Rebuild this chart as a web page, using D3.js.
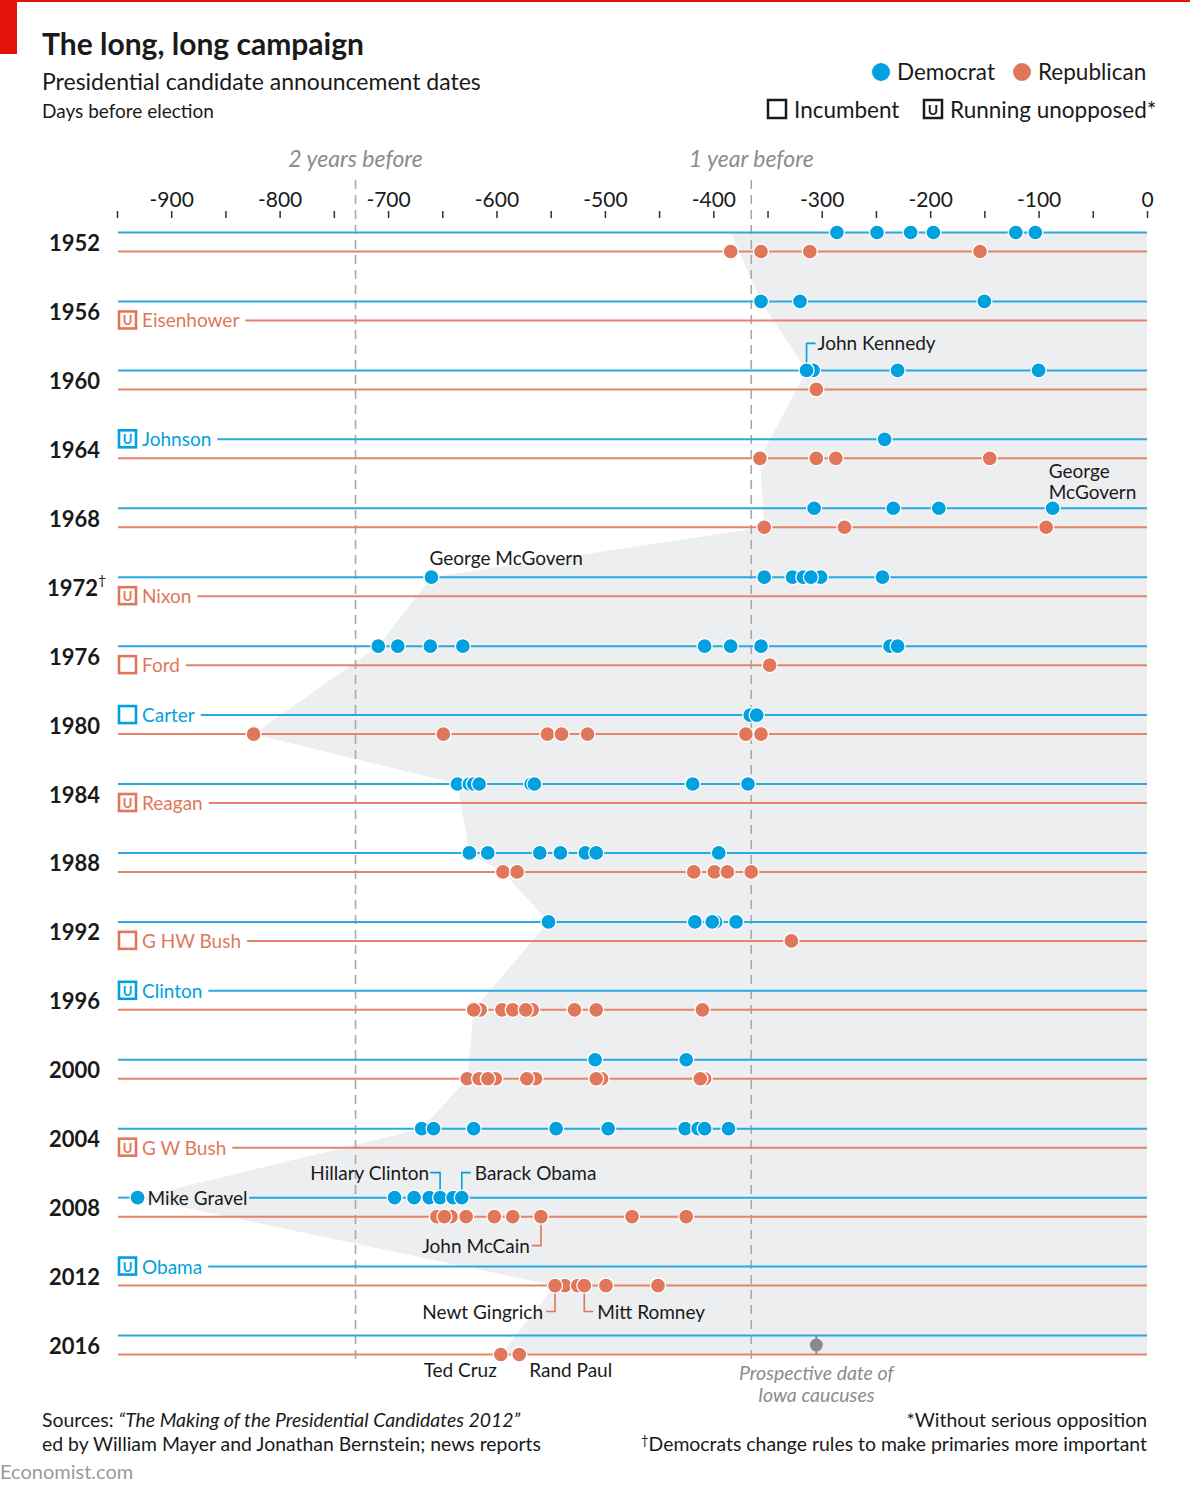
<!DOCTYPE html>
<html><head><meta charset="utf-8">
<script src="https://cdn.jsdelivr.net/npm/d3@7"></script>
<style>
html,body{margin:0;padding:0;background:#fff;}
svg text{font-family:Lato,"Open Sans",sans-serif;}
</style></head>
<body><svg id="c" width="1190" height="1492"></svg>
<script>
// ---------- DATA ----------
const years = [1952,1956,1960,1964,1968,1972,1976,1980,1984,1988,1992,1996,2000,2004,2008,2012,2016];
// days before election, one array per year (same order as years)
const demDays = [
  [-286,-249,-218,-197,-121,-103],
  [-356,-320,-150],
  [-308,-314,-230,-100],
  [-242],
  [-307,-234,-192,-87],
  [-660,-353,-327,-317,-301,-310,-244],
  [-709,-691,-661,-631,-408,-384,-356,-237,-230],
  [-366,-360],
  [-636,-625,-621,-616,-568,-565,-419,-368],
  [-625,-608,-560,-541,-518,-508,-395],
  [-552,-417,-398,-401,-379],
  [],
  [-509,-425],
  [-669,-658,-621,-545,-497,-426,-414,-408,-386],
  [-931,-694,-676,-662,-652,-640,-632],
  [],
  []
];
const repDays = [
  [-384,-356,-311,-154],
  [],
  [-305],
  [-357,-305,-287,-145],
  [-353,-279,-93],
  [],
  [-348],
  [-824,-649,-553,-540,-516,-370,-356],
  [],
  [-594,-581,-418,-399,-387,-365],
  [-328],
  [-615,-621,-595,-585,-567,-573,-528,-508,-410],
  [-627,-616,-601,-608,-564,-572,-503,-508,-408,-412],
  [],
  [-642,-655,-648,-628,-602,-585,-559,-475,-425],
  [-537,-546,-525,-519,-499,-451],
  [-596,-579]
];
// incumbents / unopposed
const incYears   = [1956,1964,1972,1976,1980,1984,1992,1996,2004,2012];
const incNames   = ["Eisenhower","Johnson","Nixon","Ford","Carter","Reagan","G HW Bush","Clinton","G W Bush","Obama"];
const incParty   = ["R","D","R","R","D","R","R","D","R","D"];
const incUnopp   = [true,true,true,false,false,true,false,true,true,true];
// edge of the shaded "earliest announcement" area
const shadeYears = [1952,1956,1960,1964,1968,1972,1976,1980,1984,1988,1988,1992,1996,2000,2004,2008,2012,2016];
const shadeParty = ["D","D","D","R","R","D","D","R","D","D","R","D","R","R","D","D","R","R"];
const shadeDays  = [-384,-356,-314,-357,-353,-660,-709,-824,-636,-625,-594,-552,-621,-627,-669,-931,-546,-596];
// named candidates
const annNames = ["John Kennedy","George McGovern","George McGovern","Hillary Clinton","Barack Obama","Mike Gravel","John McCain","Newt Gingrich","Mitt Romney","Ted Cruz","Rand Paul"];
const annYears = [1960,1968,1972,2008,2008,2008,2008,2012,2012,2016,2016];
const annParty = ["D","D","D","D","D","D","R","R","R","R","R"];
const annDays  = [-314,-87,-660,-652,-632,-931,-559,-546,-519,-596,-579];
const iowaDays = -305;
const tickValues = d3.range(-950, 1, 50);
const markerDays = [-730,-365];
const markerLabels = ["2 years before","1 year before"];

// ---------- SETUP ----------
const BLUE = "#00a1de", RED = "#e1775a", LBLUE = "#29a9e0", LRED = "#e4846a";
const INK = "#1a1a1a";
const svg = d3.select("#c");
const x = d3.scaleLinear().domain([-950,0]).range([117,1147]);
const yc = d3.scalePoint().domain(years).range([242,1345]);
const yLine = (yr,p) => yc(yr) + (p === "D" ? -9.5 : 9.5);
const R = 7.5;

// top decorations
svg.append("rect").attr("x",0).attr("y",0).attr("width",1190).attr("height",2).attr("fill","#e3120b");
svg.append("rect").attr("x",0).attr("y",0).attr("width",17).attr("height",54).attr("fill","#e3120b");

svg.append("text").attr("x",42).attr("y",55).attr("font-size",30).attr("font-weight",700).attr("fill",INK).text("The long, long campaign");
svg.append("text").attr("x",42).attr("y",90).attr("font-size",23).attr("fill",INK).text("Presidential candidate announcement dates");
svg.append("text").attr("x",42).attr("y",118).attr("font-size",19).attr("fill",INK).text("Days before election");

// legend
const lg = svg.append("g");
const LFS = 22.5;
lg.append("circle").attr("cx",881).attr("cy",72).attr("r",9).attr("fill",BLUE);
lg.append("text").attr("x",897).attr("y",80).attr("font-size",LFS).attr("fill",INK).text("Democrat");
lg.append("circle").attr("cx",1022).attr("cy",72).attr("r",9).attr("fill",RED);
lg.append("text").attr("x",1038).attr("y",80).attr("font-size",LFS).attr("fill",INK).text("Republican");
lg.append("rect").attr("x",768).attr("y",100).attr("width",18).attr("height",18).attr("fill","none").attr("stroke",INK).attr("stroke-width",2.5);
lg.append("text").attr("x",794).attr("y",118).attr("font-size",LFS).attr("fill",INK).text("Incumbent");
lg.append("rect").attr("x",924).attr("y",100).attr("width",18).attr("height",18).attr("fill","none").attr("stroke",INK).attr("stroke-width",2.5);
lg.append("text").attr("x",933).attr("y",115).attr("text-anchor","middle").attr("font-size",14).attr("font-weight",700).attr("fill",INK).text("U");
lg.append("text").attr("x",950).attr("y",118).attr("font-size",LFS).attr("fill",INK).text("Running unopposed*");

// shading
const shadePts = shadeYears.map((yr,i) => [x(shadeDays[i]), yLine(yr, shadeParty[i])]);
shadePts.push([x(0), yLine(2016,"R")]);
shadePts.push([x(0), yLine(1952,"D")]);
svg.append("path").attr("d", d3.line()(shadePts) + "Z").attr("fill","#eceef0");

// axis
const axis = d3.axisTop(x).tickValues(tickValues).tickSize(7).tickPadding(4)
  .tickFormat(d => d % 100 === 0 ? String(d) : "");
const ag = svg.append("g").attr("transform","translate(0,218)").call(axis);
ag.select(".domain").remove();
ag.selectAll(".tick line").attr("stroke","#333").attr("stroke-width",1.5);
ag.selectAll(".tick text").attr("font-size",21).attr("fill",INK).attr("font-family","Lato,sans-serif");

// year markers
markerDays.forEach((m,i) => {
  svg.append("line").attr("x1",x(m)).attr("x2",x(m)).attr("y1",180).attr("y2",1362)
    .attr("stroke","#a8a8a8").attr("stroke-width",1.6).attr("stroke-dasharray","9,6");
  svg.append("text").attr("x",x(m)).attr("y",167).attr("text-anchor","middle").attr("font-size",23)
    .attr("font-style","italic").attr("fill","#8c8c8c").text(markerLabels[i]);
});

// year labels
years.forEach(yr => {
  const t = svg.append("text").attr("x",100).attr("y",yc(yr)+9).attr("text-anchor","end")
    .attr("font-size",22).attr("font-weight",700).attr("fill",INK).text(yr);
  if (yr === 1972) {
    t.attr("text-anchor","start").attr("x",47);
    svg.append("text").attr("x",98).attr("y",yc(yr)-2).attr("font-size",14).attr("fill",INK).text("†");
  }
});

// incumbent labels (measure text to start the lines after them)
const lineStart = {};
incYears.forEach((yr,i) => {
  const p = incParty[i], col = p === "D" ? BLUE : RED, y = yLine(yr,p);
  svg.append("rect").attr("x",119).attr("y",y-9).attr("width",17).attr("height",17)
    .attr("fill","none").attr("stroke",col).attr("stroke-width",2.6);
  if (incUnopp[i]) svg.append("text").attr("x",127.5).attr("y",y+5).attr("text-anchor","middle")
    .attr("font-size",13).attr("font-weight",700).attr("fill",col).text("U");
  const t = svg.append("text").attr("x",142).attr("y",y+7).attr("font-size",19).attr("fill",col).text(incNames[i]);
  lineStart[yr+p] = 142 + t.node().getComputedTextLength() + 6;
});

// the party lines
const lg2 = svg.append("g");
years.forEach(yr => {
  ["D","R"].forEach(p => {
    const y = yLine(yr,p), col = p === "D" ? LBLUE : LRED;
    const x0 = lineStart[yr+p] || x(-950) + 1;
    if (yr === 2008 && p === "D") {
      lg2.append("line").attr("x1",x0).attr("x2",x(-931)).attr("y1",y).attr("y2",y).attr("stroke",col).attr("stroke-width",2);
      lg2.append("line").attr("x1",249).attr("x2",x(0)).attr("y1",y).attr("y2",y).attr("stroke",col).attr("stroke-width",2);
    } else {
      lg2.append("line").attr("x1",x0).attr("x2",x(0)).attr("y1",y).attr("y2",y).attr("stroke",col).attr("stroke-width",2);
    }
  });
});

// Iowa caucus marker
svg.append("line").attr("x1",x(iowaDays)).attr("x2",x(iowaDays)).attr("y1",yLine(2016,"D")).attr("y2",yLine(2016,"R"))
  .attr("stroke","#8a8a8a").attr("stroke-width",2);
svg.append("circle").attr("cx",x(iowaDays)).attr("cy",yc(2016)).attr("r",6.5).attr("fill","#8a8a8a");
svg.append("text").attr("x",x(iowaDays)).attr("y",1380).attr("text-anchor","middle").attr("font-size",19.5)
  .attr("font-style","italic").attr("fill","#8c8c8c").text("Prospective date of");
svg.append("text").attr("x",x(iowaDays)).attr("y",1402).attr("text-anchor","middle").attr("font-size",19.5)
  .attr("font-style","italic").attr("fill","#8c8c8c").text("Iowa caucuses");

// annotation connectors (behind dots)
const annG = svg.append("g");
const conn = (d, col) => annG.append("path").attr("d",d).attr("fill","none").attr("stroke",col).attr("stroke-width",1.6);
const txt = (s, xx, yy, anchor) => annG.append("text").attr("x",xx).attr("y",yy).attr("text-anchor",anchor||"start")
  .attr("font-size",19).attr("fill",INK).text(s);
annNames.forEach((n,i) => {
  const xx = x(annDays[i]), y = yLine(annYears[i], annParty[i]);
  const col = annParty[i] === "D" ? BLUE : RED;
  switch (i) {
    case 0: conn(`M${xx},${y} V${y-27} H${xx+9}`, col); txt(n, xx+11, y-20); break;
    case 1: txt("George", xx-4, y-30); txt("McGovern", xx-4, y-9); break;
    case 2: txt(n, xx-2, y-12); break;
    case 3: conn(`M${xx},${y} V${y-25} H${xx-10}`, col); txt(n, xx-11, y-18, "end"); break;
    case 4: conn(`M${xx},${y} V${y-25} H${xx+9}`, col); txt(n, xx+13, y-18); break;
    case 5: txt(n, xx+10, y+7); break;
    case 6: conn(`M${xx},${y} V${y+29} H${xx-9}`, col); txt(n, xx-11, y+36, "end"); break;
    case 7: conn(`M${xx},${y} V${y+26} H${xx-9}`, col); txt(n, xx-12, y+33, "end"); break;
    case 8: conn(`M${xx},${y} V${y+26} H${xx+9}`, col); txt(n, xx+13, y+33); break;
    case 9: txt(n, xx-4, y+22, "end"); break;
    case 10: txt(n, xx+10, y+22); break;
  }
});

// dots
const dotG = svg.append("g");
years.forEach((yr,i) => {
  [["D",demDays[i],BLUE],["R",repDays[i],RED]].forEach(([p,arr,col]) => {
    dotG.selectAll(null).data(arr).enter().append("circle")
      .attr("cx", d => x(d)).attr("cy", yLine(yr,p)).attr("r", R)
      .attr("fill", col).attr("stroke","#fff").attr("stroke-width",1.3);
  });
});

// footer
const FFS = 19.4;
const f = svg.append("text").attr("x",42).attr("y",1427).attr("font-size",FFS).attr("fill",INK);
f.append("tspan").text("Sources: ");
f.append("tspan").attr("font-style","italic").text("\u201CThe Making of the Presidential Candidates 2012\u201D");
svg.append("text").attr("x",42).attr("y",1451).attr("font-size",FFS).attr("fill",INK).text("ed by William Mayer and Jonathan Bernstein; news reports");
svg.append("text").attr("x",1147).attr("y",1427).attr("text-anchor","end").attr("font-size",FFS).attr("fill",INK).text("*Without serious opposition");
const f2 = svg.append("text").attr("x",1147).attr("y",1451).attr("text-anchor","end").attr("font-size",FFS).attr("fill",INK);
f2.append("tspan").attr("font-size",13).attr("dy",-6).text("†");
f2.append("tspan").attr("dy",6).text("Democrats change rules to make primaries more important");
svg.append("text").attr("x",0).attr("y",1479).attr("font-size",20).attr("fill","#9a9a9a").text("Economist.com");
</script></body></html>
